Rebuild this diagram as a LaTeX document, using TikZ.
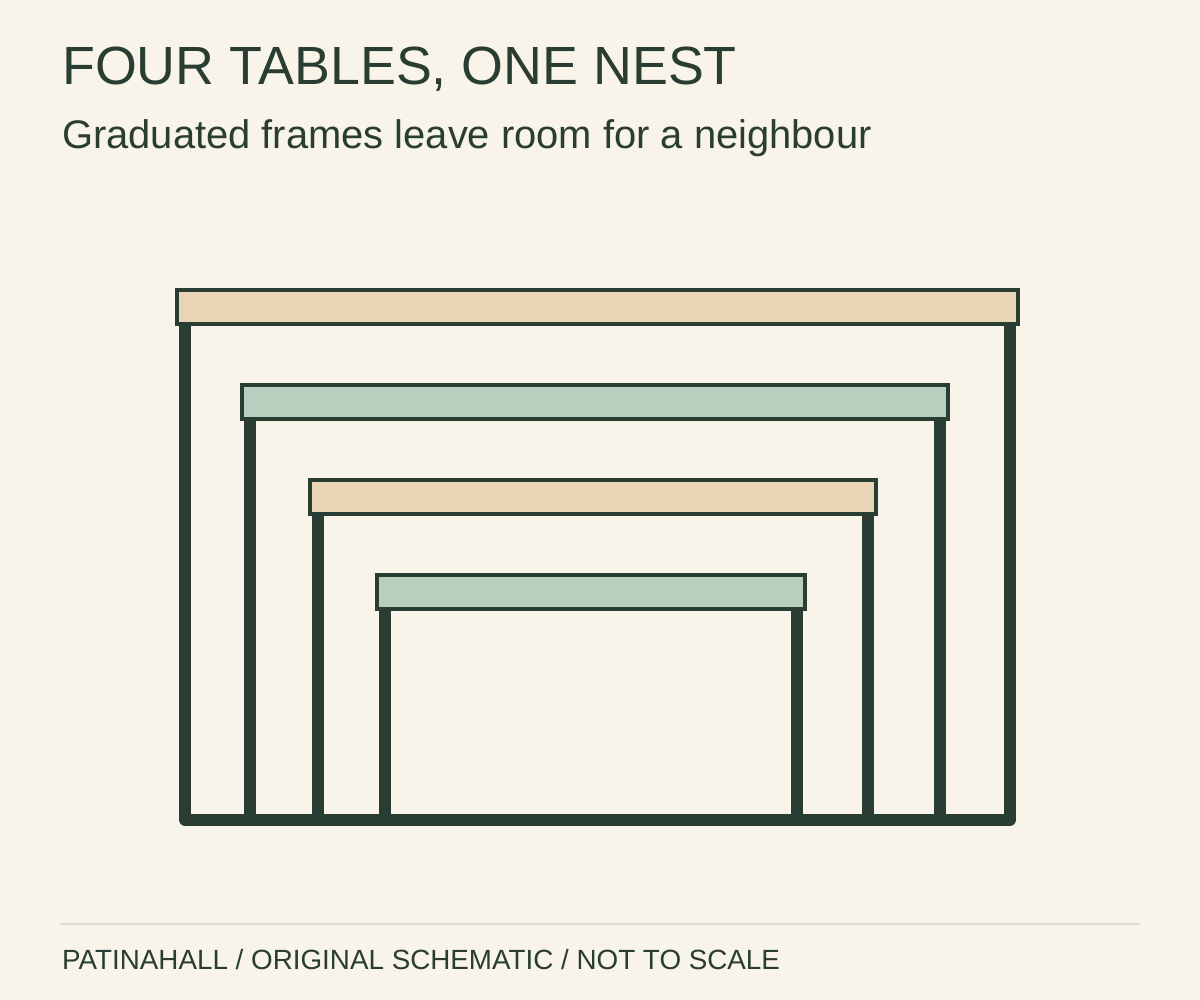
\documentclass[tikz,border=0pt]{standalone}
\usepackage{fontspec}
\setmainfont{Liberation Sans}
\definecolor{paper}{HTML}{F8F4EA}
\definecolor{ink}{HTML}{2A3D33}
\definecolor{oak}{HTML}{E8D5B5}
\definecolor{sage}{HTML}{B8CEBF}
\definecolor{rule}{HTML}{DDDBD0}
\begin{document}
\begin{tikzpicture}[x=1pt,y=-1pt,
    leg/.style={ink,line width=12pt},
    top/.style={draw=ink,line width=4pt},
    txt/.style={anchor=base west,inner sep=0pt,text=ink}]
    \fill[paper] (0,0) rectangle (1200,1000);
    \useasboundingbox (0,0) rectangle (1200,1000);
    \node[txt,font=\fontsize{53.8}{60}\selectfont] (title) at (62,85) {FOUR TABLES, ONE NEST};
    \node[txt,font=\fontsize{39.9}{46}\selectfont] (subtitle) at (62,149) {Graduated frames leave room for a neighbour};
    % legs
    \draw[leg] (185,324) -- (185,819);
    \draw[leg] (1010,324) -- (1010,819);
    \draw[leg] (250,419) -- (250,819);
    \draw[leg] (940,419) -- (940,819);
    \draw[leg] (318,514) -- (318,819);
    \draw[leg] (868,514) -- (868,819);
    \draw[leg] (385,609) -- (385,819);
    \draw[leg] (797,609) -- (797,819);
    \draw[leg,line cap=round] (185,819.5) -- (1010,819.5);
    % tops
    \draw[top,fill=oak] (177,290) rectangle (1018,324);
    \draw[top,fill=sage] (242,385) rectangle (948,419);
    \draw[top,fill=oak] (310,480) rectangle (876,514);
    \draw[top,fill=sage] (377,575) rectangle (805,609);
    \draw[rule,line width=1.5pt] (60,924) -- (1140,924);
    \node[txt,font=\fontsize{27.8}{32}\selectfont] (footer) at (62,969) {PATINAHALL / ORIGINAL SCHEMATIC / NOT TO SCALE};
\end{tikzpicture}
\end{document}
